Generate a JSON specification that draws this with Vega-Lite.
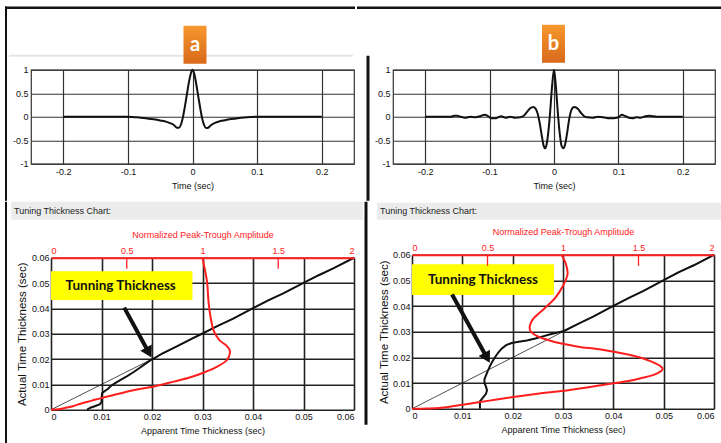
{
"$schema": "https://vega.github.io/schema/vega-lite/v6.json",
"padding": {"left": 3, "top": 5.75, "right": 0, "bottom": 0},
"background": "white",
"columns": 3,
"align": "none",
"spacing": 0,
"bounds": "full",
"config": {
  "font": "Liberation Sans",
  "view": {"stroke": null},
  "axis": {"labelFontSize": 9, "titleFontSize": 9, "titleFontWeight": "normal", "labelColor": "#111", "titleColor": "#111", "ticks": false, "domain": false, "gridOpacity": 1, "labelOverlap": false, "tickCount": 10}
},
"datasets": {
  "waveA": [
    {"t":-0.2,"amp":0},{"t":-0.15,"amp":0},{"t":-0.1,"amp":0},{"t":-0.09,"amp":-0.01},{"t":-0.08,"amp":-0.02},{"t":-0.07,"amp":-0.035},{"t":-0.06,"amp":-0.055},{"t":-0.05,"amp":-0.08},{"t":-0.04,"amp":-0.11},{"t":-0.035,"amp":-0.135},{"t":-0.03,"amp":-0.165},{"t":-0.027,"amp":-0.2},{"t":-0.024,"amp":-0.235},{"t":-0.021,"amp":-0.235},{"t":-0.018,"amp":-0.17},{"t":-0.015,"amp":-0.02},{"t":-0.012,"amp":0.2},{"t":-0.009,"amp":0.45},{"t":-0.006,"amp":0.7},{"t":-0.003,"amp":0.9},{"t":0,"amp":1},{"t":0.003,"amp":0.9},{"t":0.006,"amp":0.68},{"t":0.009,"amp":0.43},{"t":0.012,"amp":0.18},{"t":0.015,"amp":-0.04},{"t":0.018,"amp":-0.18},{"t":0.021,"amp":-0.24},{"t":0.024,"amp":-0.235},{"t":0.027,"amp":-0.2},{"t":0.03,"amp":-0.165},{"t":0.035,"amp":-0.13},{"t":0.04,"amp":-0.105},{"t":0.05,"amp":-0.075},{"t":0.06,"amp":-0.05},{"t":0.07,"amp":-0.03},{"t":0.08,"amp":-0.015},{"t":0.09,"amp":-0.005},{"t":0.1,"amp":0},{"t":0.15,"amp":0},{"t":0.2,"amp":0}
  ],
  "waveB": [
    {"t":-0.2,"amp":0},{"t":-0.16,"amp":0},{"t":-0.155,"amp":0.02},{"t":-0.15,"amp":0.02},{"t":-0.145,"amp":0},{"t":-0.138,"amp":-0.02},{"t":-0.13,"amp":0},{"t":-0.122,"amp":-0.01},{"t":-0.115,"amp":0.01},{"t":-0.108,"amp":0.04},{"t":-0.103,"amp":0.02},{"t":-0.098,"amp":-0.03},{"t":-0.09,"amp":-0.03},{"t":-0.082,"amp":0.01},{"t":-0.075,"amp":-0.02},{"t":-0.068,"amp":0},{"t":-0.06,"amp":-0.02},{"t":-0.052,"amp":-0.01},{"t":-0.047,"amp":0.02},{"t":-0.042,"amp":0.1},{"t":-0.037,"amp":0.18},{"t":-0.032,"amp":0.21},{"t":-0.028,"amp":0.16},{"t":-0.025,"amp":0.05},{"t":-0.022,"amp":-0.15},{"t":-0.019,"amp":-0.4},{"t":-0.016,"amp":-0.62},{"t":-0.014,"amp":-0.67},{"t":-0.012,"amp":-0.62},{"t":-0.009,"amp":-0.35},{"t":-0.006,"amp":0.1},{"t":-0.003,"amp":0.65},{"t":0,"amp":1},{"t":0.003,"amp":0.63},{"t":0.006,"amp":0.08},{"t":0.009,"amp":-0.37},{"t":0.012,"amp":-0.63},{"t":0.0145,"amp":-0.67},{"t":0.017,"amp":-0.6},{"t":0.02,"amp":-0.38},{"t":0.023,"amp":-0.1},{"t":0.026,"amp":0.1},{"t":0.029,"amp":0.19},{"t":0.032,"amp":0.21},{"t":0.037,"amp":0.17},{"t":0.042,"amp":0.08},{"t":0.047,"amp":0.01},{"t":0.052,"amp":-0.01},{"t":0.06,"amp":-0.02},{"t":0.068,"amp":0},{"t":0.076,"amp":-0.01},{"t":0.084,"amp":-0.03},{"t":0.092,"amp":-0.03},{"t":0.1,"amp":-0.01},{"t":0.105,"amp":0.04},{"t":0.11,"amp":0.02},{"t":0.116,"amp":-0.02},{"t":0.122,"amp":-0.03},{"t":0.128,"amp":-0.01},{"t":0.135,"amp":-0.02},{"t":0.142,"amp":0.01},{"t":0.148,"amp":0.02},{"t":0.155,"amp":0.01},{"t":0.16,"amp":0},{"t":0.2,"amp":0}
  ],
  "diag": [{"app":0,"act":0},{"app":0.06,"act":0.06}],
  "blackA": [
    {"app":0.0071,"act":0},{"app":0.0078,"act":0.0008},{"app":0.0088,"act":0.0015},{"app":0.0097,"act":0.0022},{"app":0.01,"act":0.003},{"app":0.0101,"act":0.0065},{"app":0.0106,"act":0.0073},{"app":0.0113,"act":0.0083},{"app":0.0119,"act":0.0095},{"app":0.0127,"act":0.0105},{"app":0.0137,"act":0.0117},{"app":0.015,"act":0.0132},{"app":0.0163,"act":0.0148},{"app":0.0176,"act":0.0166},{"app":0.0188,"act":0.0183},{"app":0.0198,"act":0.0197},{"app":0.0206,"act":0.0205},{"app":0.022,"act":0.0222},{"app":0.025,"act":0.0251},{"app":0.028,"act":0.0282},{"app":0.03,"act":0.0301},{"app":0.033,"act":0.0331},{"app":0.036,"act":0.0359},{"app":0.04,"act":0.0401},{"app":0.043,"act":0.0432},{"app":0.046,"act":0.0459},{"app":0.05,"act":0.0501},{"app":0.053,"act":0.0531},{"app":0.056,"act":0.0559},{"app":0.06,"act":0.06}
  ],
  "redA": [
    {"amp":0,"act":0},{"amp":0.05,"act":0.0002},{"amp":0.09,"act":0.0007},{"amp":0.15,"act":0.0015},{"amp":0.2,"act":0.0025},{"amp":0.27,"act":0.0036},{"amp":0.33,"act":0.0046},{"amp":0.44,"act":0.0062},{"amp":0.55,"act":0.0078},{"amp":0.68,"act":0.0092},{"amp":0.81,"act":0.0111},{"amp":0.92,"act":0.0128},{"amp":1.01,"act":0.0147},{"amp":1.09,"act":0.0168},{"amp":1.15,"act":0.019},{"amp":1.175,"act":0.021},{"amp":1.18,"act":0.0235},{"amp":1.16,"act":0.0252},{"amp":1.11,"act":0.0276},{"amp":1.075,"act":0.031},{"amp":1.055,"act":0.036},{"amp":1.04,"act":0.0425},{"amp":1.03,"act":0.0505},{"amp":1.01,"act":0.057},{"amp":1.0,"act":0.06}
  ],
  "blackB": [
    {"app":0.0135,"act":0},{"app":0.0135,"act":0.0029},{"app":0.0141,"act":0.0043},{"app":0.0147,"act":0.0058},{"app":0.0149,"act":0.0072},{"app":0.0147,"act":0.0086},{"app":0.0144,"act":0.01},{"app":0.0144,"act":0.0115},{"app":0.0147,"act":0.013},{"app":0.015,"act":0.0145},{"app":0.0154,"act":0.0162},{"app":0.0158,"act":0.0178},{"app":0.0164,"act":0.0198},{"app":0.0171,"act":0.0218},{"app":0.0178,"act":0.0234},{"app":0.0187,"act":0.0248},{"app":0.0198,"act":0.0256},{"app":0.0212,"act":0.0261},{"app":0.0228,"act":0.0266},{"app":0.0245,"act":0.0274},{"app":0.026,"act":0.0282},{"app":0.0275,"act":0.029},{"app":0.029,"act":0.0297},{"app":0.0302,"act":0.0303},{"app":0.033,"act":0.0331},{"app":0.036,"act":0.0359},{"app":0.04,"act":0.0401},{"app":0.043,"act":0.0431},{"app":0.046,"act":0.0459},{"app":0.05,"act":0.0501},{"app":0.053,"act":0.0532},{"app":0.056,"act":0.0559},{"app":0.06,"act":0.06}
  ],
  "redB": [
    {"amp":0,"act":0},{"amp":0.1,"act":0.0001},{"amp":0.18,"act":0.0003},{"amp":0.26,"act":0.0009},{"amp":0.335,"act":0.0016},{"amp":0.44,"act":0.0025},{"amp":0.55,"act":0.0035},{"amp":0.66,"act":0.0045},{"amp":0.77,"act":0.0054},{"amp":0.88,"act":0.0062},{"amp":0.99,"act":0.0069},{"amp":1.1,"act":0.0078},{"amp":1.21,"act":0.0088},{"amp":1.36,"act":0.0101},{"amp":1.45,"act":0.011},{"amp":1.52,"act":0.012},{"amp":1.58,"act":0.0128},{"amp":1.62,"act":0.0137},{"amp":1.65,"act":0.0147},{"amp":1.66,"act":0.0155},{"amp":1.65,"act":0.0164},{"amp":1.615,"act":0.0176},{"amp":1.55,"act":0.0192},{"amp":1.43,"act":0.0211},{"amp":1.26,"act":0.023},{"amp":1.1,"act":0.0242},{"amp":0.99,"act":0.0254},{"amp":0.905,"act":0.0267},{"amp":0.83,"act":0.0283},{"amp":0.785,"act":0.0302},{"amp":0.78,"act":0.0322},{"amp":0.8,"act":0.0348},{"amp":0.87,"act":0.0387},{"amp":0.95,"act":0.0433},{"amp":1.0,"act":0.0479},{"amp":1.03,"act":0.0524},{"amp":1.02,"act":0.0563},{"amp":0.99,"act":0.06}
  ]
},
"concat": [
  {"width": 1, "height": 1, "data": {"values": [{}]}, "mark": {"type": "rect", "color": "white"}, "encoding": {}},
  {
    "width": 323, "height": 94,
    "view": {"stroke": "#333", "strokeWidth": 1.2},
    "layer": [
      {"data": {"values": [{}]}, "mark": {"type": "rect", "color": "#e4e4e4"},
       "encoding": {"x": {"datum": -0.28406, "type": "quantitative", "scale": {"domain": [-0.25, 0.25], "nice": false, "zero": false}}, "x2": {"datum": 0.24845}, "y": {"datum": 1.31915, "type": "quantitative", "scale": {"domain": [-1, 1], "nice": false, "zero": false}}, "y2": {"datum": 1.2766}}},
      {"data": {"values": [{}]}, "mark": {"type": "rect", "color": "#111"},
       "encoding": {"x": {"datum": -0.29025, "type": "quantitative", "scale": {"domain": [-0.25, 0.25], "nice": false, "zero": false}}, "x2": {"datum": 0.25155}, "y": {"datum": 2.34574, "type": "quantitative", "scale": {"domain": [-1, 1], "nice": false, "zero": false}}, "y2": {"datum": 2.29255}}},
      {"data": {"values": [{}]}, "mark": {"type": "rect", "color": "#111"},
       "encoding": {"x": {"datum": -0.29025, "type": "quantitative", "scale": {"domain": [-0.25, 0.25], "nice": false, "zero": false}}, "x2": {"datum": -0.28715}, "y": {"datum": 2.34574, "type": "quantitative", "scale": {"domain": [-1, 1], "nice": false, "zero": false}}, "y2": {"datum": -1.78723}}},
      {"data": {"values": [{}]}, "mark": {"type": "rect", "fill": {"gradient": "linear", "x1": 0, "y1": 0, "x2": 0, "y2": 1, "stops": [{"offset": 0, "color": "#f7982e"}, {"offset": 1, "color": "#d8691b"}]}},
       "encoding": {"x": {"datum": -0.01393, "type": "quantitative", "scale": {"domain": [-0.25, 0.25], "nice": false, "zero": false}}, "x2": {"datum": 0.02167}, "y": {"datum": 1.93617, "type": "quantitative", "scale": {"domain": [-1, 1], "nice": false, "zero": false}}, "y2": {"datum": 1.12766}}},
      {"data": {"values": [{}]}, "mark": {"type": "text", "text": "a", "font": "Lato", "fontWeight": "bold", "fontSize": 20, "color": "white", "align": "center", "baseline": "middle"},
       "encoding": {"x": {"datum": 0.00387, "type": "quantitative", "scale": {"domain": [-0.25, 0.25], "nice": false, "zero": false}}, "y": {"datum": 1.53191, "type": "quantitative", "scale": {"domain": [-1, 1], "nice": false, "zero": false}}}},
      {"data": {"name": "waveA"}, "mark": {"type": "line", "color": "#111", "strokeWidth": 2, "interpolate": "monotone"},
       "encoding": {
         "x": {"field": "t", "type": "quantitative", "scale": {"domain": [-0.25, 0.25], "nice": false, "zero": false}, "axis": {"values": [-0.2, -0.1, 0, 0.1, 0.2], "tickCount": 10, "labelExpr": "toString(datum.value)", "title": "Time (sec)", "grid": true, "gridColor": "#333", "gridWidth": 1.2, "labelPadding": 3.5, "titlePadding": 5}},
         "y": {"field": "amp", "type": "quantitative", "scale": {"domain": [-1, 1], "nice": false, "zero": false}, "axis": {"values": [-1, -0.5, 0, 0.5, 1], "tickCount": 10, "labelExpr": "toString(datum.value)", "title": null, "grid": true, "gridColor": "#333", "gridWidth": 1.2, "labelPadding": 3}}
       }}
    ]
  },
  {
    "width": 322, "height": 94,
    "view": {"stroke": "#333", "strokeWidth": 1.2},
    "layer": [
      {"data": {"values": [{}]}, "mark": {"type": "rect", "color": "#111"},
       "encoding": {"x": {"datum": -0.3059, "type": "quantitative", "scale": {"domain": [-0.25, 0.25], "nice": false, "zero": false}}, "x2": {"datum": 0.26242}, "y": {"datum": 2.34574, "type": "quantitative", "scale": {"domain": [-1, 1], "nice": false, "zero": false}}, "y2": {"datum": 2.29255}}},
      {"data": {"values": [{}]}, "mark": {"type": "rect", "color": "#111"},
       "encoding": {"x": {"datum": -0.29115, "type": "quantitative", "scale": {"domain": [-0.25, 0.25], "nice": false, "zero": false}}, "x2": {"datum": -0.28649}, "y": {"datum": 1.29787, "type": "quantitative", "scale": {"domain": [-1, 1], "nice": false, "zero": false}}, "y2": {"datum": -1.78723}}},
      {"data": {"values": [{}]}, "mark": {"type": "rect", "fill": {"gradient": "linear", "x1": 0, "y1": 0, "x2": 0, "y2": 1, "stops": [{"offset": 0, "color": "#f7982e"}, {"offset": 1, "color": "#d8691b"}]}},
       "encoding": {"x": {"datum": -0.01863, "type": "quantitative", "scale": {"domain": [-0.25, 0.25], "nice": false, "zero": false}}, "x2": {"datum": 0.01708}, "y": {"datum": 1.95745, "type": "quantitative", "scale": {"domain": [-1, 1], "nice": false, "zero": false}}, "y2": {"datum": 1.14894}}},
      {"data": {"values": [{}]}, "mark": {"type": "text", "text": "b", "font": "Lato", "fontWeight": "bold", "fontSize": 20, "color": "white", "align": "center", "baseline": "middle"},
       "encoding": {"x": {"datum": -0.00078, "type": "quantitative", "scale": {"domain": [-0.25, 0.25], "nice": false, "zero": false}}, "y": {"datum": 1.55319, "type": "quantitative", "scale": {"domain": [-1, 1], "nice": false, "zero": false}}}},
      {"data": {"name": "waveB"}, "mark": {"type": "line", "color": "#111", "strokeWidth": 2, "interpolate": "monotone"},
       "encoding": {
         "x": {"field": "t", "type": "quantitative", "scale": {"domain": [-0.25, 0.25], "nice": false, "zero": false}, "axis": {"values": [-0.2, -0.1, 0, 0.1, 0.2], "tickCount": 10, "labelExpr": "toString(datum.value)", "title": "Time (sec)", "grid": true, "gridColor": "#333", "gridWidth": 1.2, "labelPadding": 3.5, "titlePadding": 5}},
         "y": {"field": "amp", "type": "quantitative", "scale": {"domain": [-1, 1], "nice": false, "zero": false}, "axis": {"values": [-1, -0.5, 0, 0.5, 1], "tickCount": 10, "labelExpr": "toString(datum.value)", "title": null, "grid": true, "gridColor": "#333", "gridWidth": 1.2, "labelPadding": 3}}
       }}
    ]
  },
  {"width": 1, "height": 1, "data": {"values": [{}]}, "mark": {"type": "rect", "color": "white"}, "encoding": {}},
  {
    "width": 303, "height": 152,
    "resolve": {"scale": {"x": "independent"}, "axis": {"x": "independent"}},
    "layer": [
      {"layer": [
        {"data": {"values": [{}]}, "mark": {"type": "rect", "color": "#ececec"},
         "encoding": {"x": {"datum": -0.007921, "type": "quantitative", "scale": {"domain": [0, 0.06], "nice": false, "zero": false}}, "x2": {"datum": 0.061782}, "y": {"datum": 0.082105, "type": "quantitative", "scale": {"domain": [0, 0.06], "nice": false, "zero": false}}, "y2": {"datum": 0.075}}},
        {"data": {"values": [{}]}, "mark": {"type": "text", "text": "Tuning Thickness Chart:", "fontSize": 9, "color": "#222", "align": "left", "baseline": "middle"},
         "encoding": {"x": {"datum": -0.007327, "type": "quantitative", "scale": {"domain": [0, 0.06], "nice": false, "zero": false}}, "y": {"datum": 0.078355, "type": "quantitative", "scale": {"domain": [0, 0.06], "nice": false, "zero": false}}}},
        {"data": {"values": [{}]}, "mark": {"type": "rect", "color": "#111"},
         "encoding": {"x": {"datum": -0.009109, "type": "quantitative", "scale": {"domain": [0, 0.06], "nice": false, "zero": false}}, "x2": {"datum": -0.008713}, "y": {"datum": 0.082105, "type": "quantitative", "scale": {"domain": [0, 0.06], "nice": false, "zero": false}}, "y2": {"datum": -0.013421}}},
        {"data": {"values": [{}]}, "mark": {"type": "rect", "color": "#111"},
         "encoding": {"x": {"datum": 0.062079, "type": "quantitative", "scale": {"domain": [0, 0.06], "nice": false, "zero": false}}, "x2": {"datum": 0.062673}, "y": {"datum": 0.082105, "type": "quantitative", "scale": {"domain": [0, 0.06], "nice": false, "zero": false}}, "y2": {"datum": -0.005921}}},
        {"data": {"name": "diag"}, "mark": {"type": "line", "color": "#222", "strokeWidth": 0.8},
         "encoding": {"x": {"field": "app", "type": "quantitative", "scale": {"domain": [0, 0.06], "nice": false, "zero": false}}, "y": {"field": "act", "type": "quantitative", "scale": {"domain": [0, 0.06], "nice": false, "zero": false}}}},
        {"data": {"name": "blackA"}, "mark": {"type": "line", "color": "#111", "strokeWidth": 2},
         "encoding": {
           "x": {"field": "app", "type": "quantitative", "scale": {"domain": [0, 0.06], "nice": false, "zero": false}, "axis": {"values": [0, 0.01, 0.02, 0.03, 0.04, 0.05, 0.06], "tickCount": 10, "labelExpr": "toString(datum.value)", "title": "Apparent Time Thickness (sec)", "grid": true, "gridColor": "#222", "gridWidth": 1.6, "labelPadding": 3, "titlePadding": 5}},
           "y": {"field": "act", "type": "quantitative", "scale": {"domain": [0, 0.06], "nice": false, "zero": false}, "axis": {"values": [0, 0.01, 0.02, 0.03, 0.04, 0.05, 0.06], "tickCount": 10, "labelExpr": "toString(datum.value)", "title": "Actual Time Thickness (sec)", "titleFontSize": 11.5, "grid": true, "gridColor": "#222", "gridWidth": 1.6, "labelPadding": 2, "titlePadding": 4}},
           "order": {"field": "act", "type": "quantitative"}
         }},
        {"data": {"values": [{}]}, "mark": {"type": "rect", "color": "#ffff00"},
         "encoding": {"x": {"datum": 0, "type": "quantitative", "scale": {"domain": [0, 0.06], "nice": false, "zero": false}}, "x2": {"datum": 0.028}, "y": {"datum": 0.0547, "type": "quantitative", "scale": {"domain": [0, 0.06], "nice": false, "zero": false}}, "y2": {"datum": 0.0433}}},
        {"data": {"values": [{}]}, "mark": {"type": "text", "text": "Tunning Thickness", "font": "Lato", "fontWeight": "bold", "fontSize": 13.5, "color": "#111", "align": "center", "baseline": "middle"},
         "encoding": {"x": {"datum": 0.0138, "type": "quantitative", "scale": {"domain": [0, 0.06], "nice": false, "zero": false}}, "y": {"datum": 0.0487, "type": "quantitative", "scale": {"domain": [0, 0.06], "nice": false, "zero": false}}}},
        {"data": {"values": [{}]}, "mark": {"type": "rule", "color": "#111", "strokeWidth": 4},
         "encoding": {"x": {"datum": 0.0145, "type": "quantitative", "scale": {"domain": [0, 0.06], "nice": false, "zero": false}}, "x2": {"datum": 0.01914}, "y": {"datum": 0.0403, "type": "quantitative", "scale": {"domain": [0, 0.06], "nice": false, "zero": false}}, "y2": {"datum": 0.02337}}},
        {"data": {"values": [{}]}, "mark": {"type": "point", "shape": "triangle-down", "filled": true, "size": 170, "angle": 331, "color": "#111", "opacity": 1},
         "encoding": {"x": {"datum": 0.01937, "type": "quantitative", "scale": {"domain": [0, 0.06], "nice": false, "zero": false}}, "y": {"datum": 0.02254, "type": "quantitative", "scale": {"domain": [0, 0.06], "nice": false, "zero": false}}}}
      ]},
      {"layer": [
        {"data": {"name": "redA"}, "mark": {"type": "line", "color": "#ff1e1e", "strokeWidth": 2, "interpolate": "catmull-rom"},
         "encoding": {
           "x": {"field": "amp", "type": "quantitative", "scale": {"domain": [0, 2], "nice": false, "zero": false}, "axis": {"orient": "top", "values": [0, 0.5, 1, 1.5, 2], "tickCount": 10, "labelExpr": "toString(datum.value)", "title": "Normalized Peak-Trough Amplitude", "grid": false, "domain": true, "domainColor": "#ff2020", "domainWidth": 2, "labelColor": "#ff2020", "titleColor": "#ff2020", "labelPadding": 2, "titlePadding": 7, "zindex": 1}},
           "y": {"field": "act", "type": "quantitative", "scale": {"domain": [0, 0.06], "nice": false, "zero": false}, "axis": {"values": [0, 0.01, 0.02, 0.03, 0.04, 0.05, 0.06], "tickCount": 10, "labelExpr": "toString(datum.value)", "title": "Actual Time Thickness (sec)", "titleFontSize": 11.5, "grid": true, "gridColor": "#222", "gridWidth": 1.6, "labelPadding": 2, "titlePadding": 4}},
           "order": {"field": "act", "type": "quantitative"}
         }},
        {"data": {"values": [{}]}, "mark": {"type": "rule", "color": "#ff2020", "strokeWidth": 1.3},
         "encoding": {"x": {"datum": 0.5, "type": "quantitative", "scale": {"domain": [0, 2], "nice": false, "zero": false}}, "y": {"datum": 0.06, "type": "quantitative", "scale": {"domain": [0, 0.06], "nice": false, "zero": false}}, "y2": {"datum": 0.0557}}},
        {"data": {"values": [{}]}, "mark": {"type": "rule", "color": "#ff2020", "strokeWidth": 1.3},
         "encoding": {"x": {"datum": 1.5, "type": "quantitative", "scale": {"domain": [0, 2], "nice": false, "zero": false}}, "y": {"datum": 0.06, "type": "quantitative", "scale": {"domain": [0, 0.06], "nice": false, "zero": false}}, "y2": {"datum": 0.0557}}}
      ]}
    ]
  },
  {
    "width": 302, "height": 154,
    "resolve": {"scale": {"x": "independent"}, "axis": {"x": "independent"}},
    "layer": [
      {"layer": [
        {"data": {"values": [{}]}, "mark": {"type": "rect", "color": "#ececec"},
         "encoding": {"x": {"datum": -0.006954, "type": "quantitative", "scale": {"domain": [0, 0.06], "nice": false, "zero": false}}, "x2": {"datum": 0.061788}, "y": {"datum": 0.08026, "type": "quantitative", "scale": {"domain": [0, 0.06], "nice": false, "zero": false}}, "y2": {"datum": 0.073636}}},
        {"data": {"values": [{}]}, "mark": {"type": "text", "text": "Tuning Thickness Chart:", "fontSize": 9, "color": "#222", "align": "left", "baseline": "middle"},
         "encoding": {"x": {"datum": -0.006358, "type": "quantitative", "scale": {"domain": [0, 0.06], "nice": false, "zero": false}}, "y": {"datum": 0.076948, "type": "quantitative", "scale": {"domain": [0, 0.06], "nice": false, "zero": false}}}},
        {"data": {"name": "diag"}, "mark": {"type": "line", "color": "#222", "strokeWidth": 0.8},
         "encoding": {"x": {"field": "app", "type": "quantitative", "scale": {"domain": [0, 0.06], "nice": false, "zero": false}}, "y": {"field": "act", "type": "quantitative", "scale": {"domain": [0, 0.06], "nice": false, "zero": false}}}},
        {"data": {"name": "blackB"}, "mark": {"type": "line", "color": "#111", "strokeWidth": 2},
         "encoding": {
           "x": {"field": "app", "type": "quantitative", "scale": {"domain": [0, 0.06], "nice": false, "zero": false}, "axis": {"values": [0, 0.01, 0.02, 0.03, 0.04, 0.05, 0.06], "tickCount": 10, "labelExpr": "toString(datum.value)", "title": "Apparent Time Thickness (sec)", "grid": true, "gridColor": "#222", "gridWidth": 1.6, "labelPadding": 3, "titlePadding": 5}},
           "y": {"field": "act", "type": "quantitative", "scale": {"domain": [0, 0.06], "nice": false, "zero": false}, "axis": {"values": [0, 0.01, 0.02, 0.03, 0.04, 0.05, 0.06], "tickCount": 10, "labelExpr": "toString(datum.value)", "title": "Actual Time Thickness (sec)", "titleFontSize": 11.5, "grid": true, "gridColor": "#222", "gridWidth": 1.6, "labelPadding": 2, "titlePadding": 3}},
           "order": {"field": "act", "type": "quantitative"}
         }},
        {"data": {"values": [{}]}, "mark": {"type": "rect", "color": "#ffff00"},
         "encoding": {"x": {"datum": 0, "type": "quantitative", "scale": {"domain": [0, 0.06], "nice": false, "zero": false}}, "x2": {"datum": 0.0282}, "y": {"datum": 0.0563, "type": "quantitative", "scale": {"domain": [0, 0.06], "nice": false, "zero": false}}, "y2": {"datum": 0.0443}}},
        {"data": {"values": [{}]}, "mark": {"type": "text", "text": "Tunning Thickness", "font": "Lato", "fontWeight": "bold", "fontSize": 13.5, "color": "#111", "align": "center", "baseline": "middle"},
         "encoding": {"x": {"datum": 0.0141, "type": "quantitative", "scale": {"domain": [0, 0.06], "nice": false, "zero": false}}, "y": {"datum": 0.0501, "type": "quantitative", "scale": {"domain": [0, 0.06], "nice": false, "zero": false}}}},
        {"data": {"values": [{}]}, "mark": {"type": "rule", "color": "#111", "strokeWidth": 4},
         "encoding": {"x": {"datum": 0.00796, "type": "quantitative", "scale": {"domain": [0, 0.06], "nice": false, "zero": false}}, "x2": {"datum": 0.01468}, "y": {"datum": 0.04453, "type": "quantitative", "scale": {"domain": [0, 0.06], "nice": false, "zero": false}}, "y2": {"datum": 0.02064}}},
        {"data": {"values": [{}]}, "mark": {"type": "point", "shape": "triangle-down", "filled": true, "size": 170, "angle": 331, "color": "#111", "opacity": 1},
         "encoding": {"x": {"datum": 0.01491, "type": "quantitative", "scale": {"domain": [0, 0.06], "nice": false, "zero": false}}, "y": {"datum": 0.01983, "type": "quantitative", "scale": {"domain": [0, 0.06], "nice": false, "zero": false}}}}
      ]},
      {"layer": [
        {"data": {"name": "redB"}, "mark": {"type": "line", "color": "#ff1e1e", "strokeWidth": 2, "interpolate": "catmull-rom"},
         "encoding": {
           "x": {"field": "amp", "type": "quantitative", "scale": {"domain": [0, 2], "nice": false, "zero": false}, "axis": {"orient": "top", "values": [0, 0.5, 1, 1.5, 2], "tickCount": 10, "labelExpr": "toString(datum.value)", "title": "Normalized Peak-Trough Amplitude", "grid": false, "domain": true, "domainColor": "#ff2020", "domainWidth": 2, "labelColor": "#ff2020", "titleColor": "#ff2020", "labelPadding": 2, "titlePadding": 7, "zindex": 1}},
           "y": {"field": "act", "type": "quantitative", "scale": {"domain": [0, 0.06], "nice": false, "zero": false}, "axis": {"values": [0, 0.01, 0.02, 0.03, 0.04, 0.05, 0.06], "tickCount": 10, "labelExpr": "toString(datum.value)", "title": "Actual Time Thickness (sec)", "titleFontSize": 11.5, "grid": true, "gridColor": "#222", "gridWidth": 1.6, "labelPadding": 2, "titlePadding": 3}},
           "order": {"field": "act", "type": "quantitative"}
         }},
        {"data": {"values": [{}]}, "mark": {"type": "rule", "color": "#ff2020", "strokeWidth": 1.3},
         "encoding": {"x": {"datum": 0.5, "type": "quantitative", "scale": {"domain": [0, 2], "nice": false, "zero": false}}, "y": {"datum": 0.06, "type": "quantitative", "scale": {"domain": [0, 0.06], "nice": false, "zero": false}}, "y2": {"datum": 0.0557}}},
        {"data": {"values": [{}]}, "mark": {"type": "rule", "color": "#ff2020", "strokeWidth": 1.3},
         "encoding": {"x": {"datum": 1.5, "type": "quantitative", "scale": {"domain": [0, 2], "nice": false, "zero": false}}, "y": {"datum": 0.06, "type": "quantitative", "scale": {"domain": [0, 0.06], "nice": false, "zero": false}}, "y2": {"datum": 0.0557}}}
      ]}
    ]
  }
]
}
